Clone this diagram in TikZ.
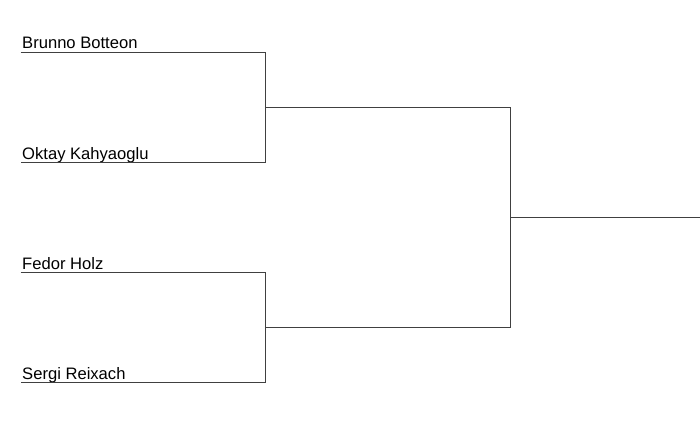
\documentclass[tikz,border=0pt]{standalone}
\usepackage{fontspec}
\setmainfont{Liberation Sans}
\usepackage{tikz}
\usetikzlibrary{positioning}

\begin{document}
\begin{tikzpicture}[x=1pt, y=-1pt,
    player/.style={anchor=base west, inner sep=0pt, xshift=1.5pt, yshift=3.5pt, font=\fontsize{16.6}{19}\selectfont},
    bracket/.style={draw=black!75, line width=1.2pt}]
  \useasboundingbox (0,0) rectangle (700,422);
  % Nodes
  \coordinate (p1) at (20.5,52.5);
  \coordinate (p2) at (20.5,162.5);
  \coordinate (p3) at (20.5,272.5);
  \coordinate (p4) at (20.5,382.5);
  \coordinate (semi1) at (265.5,107.5);
  \coordinate (semi2) at (265.5,327.5);
  \coordinate (final) at (510.5,217.5);
  \coordinate (winner) at (700,217.5);
  \node (brunno) [player] at (p1) {Brunno Botteon};
  \node (oktay) [player] at (p2) {Oktay Kahyaoglu};
  \node (fedor) [player] at (p3) {Fedor Holz};
  \node (sergi) [player] at (p4) {Sergi Reixach};

  % Edges
  \draw[bracket] (p1) -| (semi1) |- (p2);
  \draw[bracket] (p3) -| (semi2) |- (p4);
  \draw[bracket] (semi1) -| (final) |- (semi2);
  \draw[bracket] (final) -- (winner);
\end{tikzpicture}
\end{document}
